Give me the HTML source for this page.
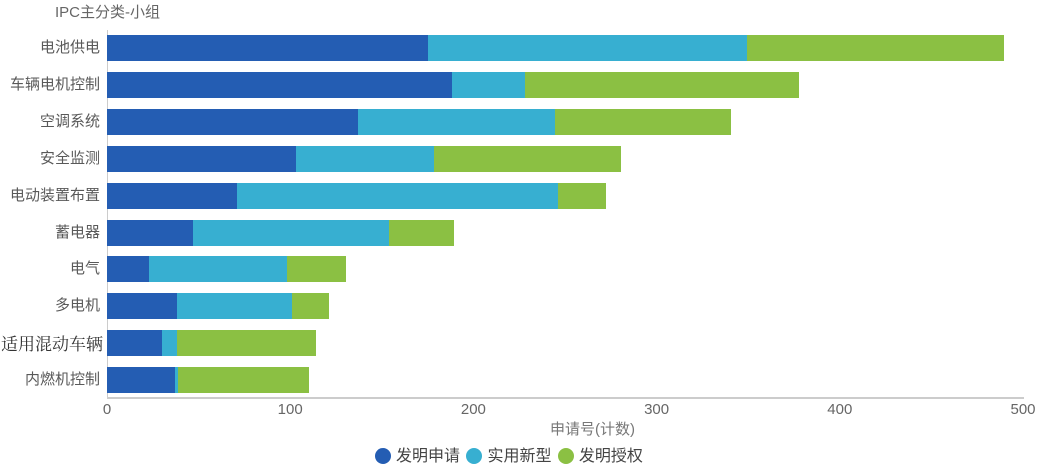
<!DOCTYPE html><html><head><meta charset="utf-8"><style>
body{margin:0;width:1042px;height:467px;background:#fff;position:relative;overflow:hidden;font-family:"Liberation Sans","Noto Sans CJK SC",sans-serif;color:#666}
.b{position:absolute;height:26px}
.l{position:absolute;right:942px;font-size:15px;color:#595959;white-space:nowrap;line-height:26px}
.t{position:absolute;top:401px;font-size:15px;color:#666;transform:translateX(-50%)}
.d{display:inline-block;width:16px;height:16px;border-radius:50%;vertical-align:-3px;margin-right:5px}
</style></head><body>
<div style="position:absolute;left:55px;top:1px;font-size:15px;color:#666">IPC主分类-小组</div>
<div style="position:absolute;left:107px;top:30px;width:1px;height:368px;background:#ccc"></div>
<div style="position:absolute;left:107px;top:397px;width:917px;height:2px;background:#ccc"></div>
<div id="c"></div>
<script>
var r=[["电池供电",428,747,1004],["车辆电机控制",452,525,799],["空调系统",358,555,731],["安全监测",296,434,621],["电动装置布置",237,558,606],["蓄电器",193,389,454],["电气",149,287,346],["多电机",177,292,329],["适用混动车辆",162,177,316],["内燃机控制",175,178,309]];
var h="",col=["#245DB3","#37AFD1","#8BC043"];
r.forEach(function(x,i){var top=35+i*36.9;var p=107;for(var k=0;k<3;k++){h+='<div class="b" style="top:'+top+'px;left:'+p+'px;width:'+(x[k+1]-p)+'px;background:'+col[k]+'"></div>';p=x[k+1];}
h+='<div class="l" style="top:'+top+'px;'+(i==8?'font-family:\'Noto Serif CJK SC\',serif;font-size:17px;color:#333;right:939px':'')+'">'+x[0]+'</div>';});
[0,100,200,300,400,500].forEach(function(v){h+='<div class="t" style="left:'+(107+v*1.832)+'px">'+v+'</div>';});
document.getElementById("c").innerHTML=h;
</script>
<div style="position:absolute;left:550px;top:418px;font-size:15px;color:#777">申请号(计数)</div>
<div style="position:absolute;left:375px;top:442px;font-size:16px;color:#444;white-space:nowrap"><span class="d" style="background:#245DB3"></span>发明申请 <span class="d" style="background:#37AFD1;margin-left:2px"></span>实用新型 <span class="d" style="background:#8BC043;margin-left:2px"></span>发明授权</div>
</body></html>
